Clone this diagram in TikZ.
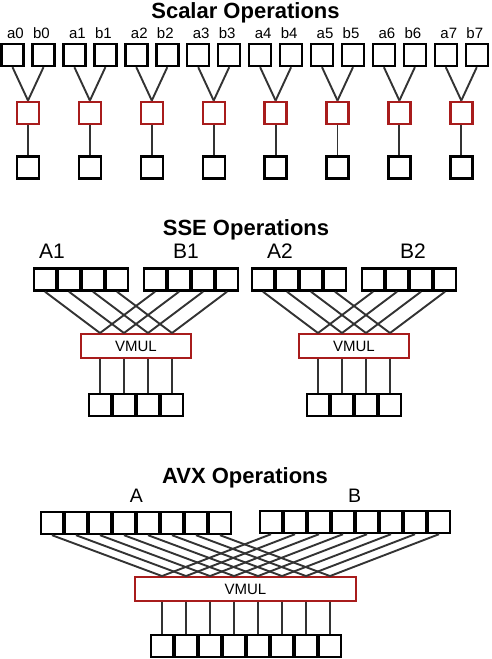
\documentclass[tikz,border=0pt]{standalone}
\usepackage{fontspec}
\setmainfont{Liberation Sans}
\definecolor{opred}{RGB}{168,28,28}
\definecolor{wire}{RGB}{51,51,51}
\begin{document}
\begin{tikzpicture}[x=1pt,y=-1pt,
  cell/.style={draw=black,line width=2.4pt,minimum width=22pt,minimum height=22pt,inner sep=0pt},
  opbox/.style={draw=opred,line width=2.4pt,inner sep=0pt,font=\fontsize{15}{17}\selectfont},
  wireline/.style={draw=wire,line width=1.9pt},
  title/.style={font=\fontsize{22}{26}\selectfont\bfseries,anchor=base,inner sep=0pt},
  smalllabel/.style={font=\fontsize{15}{17}\selectfont,anchor=base,inner sep=0pt},
  biglabel/.style={font=\fontsize{21}{24}\selectfont,anchor=base,inner sep=0pt}]
\useasboundingbox (0,0) rectangle (491,659);

% ---------- Scalar ----------
\node[title] (t1) at (245.5,18) {Scalar Operations};
\foreach \i in {0,...,7}{
  \pgfmathsetmacro{\xa}{12.5+61.9*\i}
  \node[cell] (sa\i) at (\xa,55) {};
  \node[cell] (sb\i) at (\xa+31,55) {};
  \node[opbox,minimum width=22pt,minimum height=22.5pt] (sr\i) at (\xa+15.5,113) {};
  \node[cell] (so\i) at (\xa+15.5,167.5) {};
  \node[smalllabel] (la\i) at (\xa+3,38) {a\i};
  \node[smalllabel] (lb\i) at (\xa+29,38) {b\i};
  \draw[wireline] (sa\i.south) -- (sr\i.north);
  \draw[wireline] (sb\i.south) -- (sr\i.north);
  \draw[wireline] (sr\i.south) -- (so\i.north);
}

% ---------- SSE ----------
\node[title] (t2) at (246,235) {SSE Operations};
\node[biglabel] (lA1) at (52,258) {A1};
\node[biglabel] (lB1) at (186,258) {B1};
\node[biglabel] (lA2) at (280,258) {A2};
\node[biglabel] (lB2) at (413,258) {B2};
\foreach \g/\dx in {1/0,2/218}{
  \node[opbox,minimum width=109.5pt,minimum height=23.5pt] (vm\g) at (136+\dx,346) {VMUL};
  \foreach \k in {0,...,3}{
    \node[cell] (A\g\k) at (45+\dx+24*\k,279.5) {};
    \node[cell] (B\g\k) at (155+\dx+24*\k,279.5) {};
    \node[cell] (O\g\k) at (100+\dx+24*\k,405) {};
  }
  \foreach \k in {0,...,3}{
    \draw[wireline] (A\g\k.south) -- (vm\g.north -| O\g\k);
    \draw[wireline] (B\g\k.south) -- (vm\g.north -| O\g\k);
    \draw[wireline] (vm\g.south -| O\g\k) -- (O\g\k.north);
  }
}

% ---------- AVX ----------
\node[title] (t3) at (245,483) {AVX Operations};
\node[biglabel,font=\fontsize{19.5}{22}\selectfont] (lA) at (136.5,502) {A};
\node[biglabel,font=\fontsize{19.5}{22}\selectfont] (lB) at (354.5,502) {B};
\node[opbox,minimum width=220.5pt,minimum height=23.5pt] (vm3) at (245.5,589) {VMUL};
\foreach \k in {0,...,7}{
  \node[cell] (XA\k) at (52+24*\k,523) {};
  \node[cell] (XB\k) at (271+24*\k,522) {};
  \node[cell] (XO\k) at (162+24*\k,646) {};
}
\foreach \k in {0,...,7}{
  \draw[wireline] (XA\k.south) -- (vm3.north -| XO\k);
  \draw[wireline] (XB\k.south) -- (vm3.north -| XO\k);
  \draw[wireline] (vm3.south -| XO\k) -- (XO\k.north);
}
\end{tikzpicture}
\end{document}
